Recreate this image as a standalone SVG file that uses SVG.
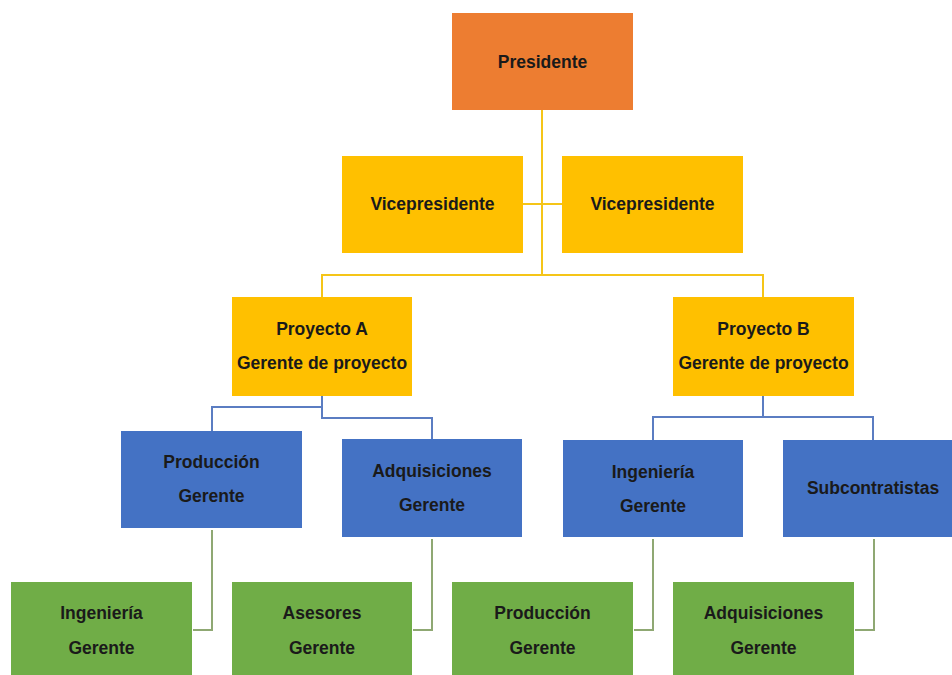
<svg xmlns="http://www.w3.org/2000/svg" width="952" height="675" viewBox="0 0 952 675">
  <style>
    .box text { font-family: "Liberation Sans", Arial, sans-serif; font-weight: bold; font-size: 17.5px; fill: #1a1a1a; text-anchor: middle; }
    .orange { fill: #ED7D31; }
    .gold { fill: #FFC000; }
    .blue { fill: #4472C4; }
    .green { fill: #70AD47; }
    .conn { fill: none; stroke-width: 2; }
    .c-gold { stroke: #F5C518; }
    .c-blue { stroke: #5B7DC2; }
    .c-green { stroke: #8FA873; }
  </style>
  <rect width="952" height="675" fill="#ffffff"/>

  <!-- connectors -->
  <g id="connectors">
    <!-- president to vice-presidents and projects -->
    <path class="conn c-gold" d="M542 110 V275"/>
    <path class="conn c-gold" d="M523 204 H562"/>
    <path class="conn c-gold" d="M322 297 V275 H763 V297"/>
    <!-- project A to its managers -->
    <path class="conn c-blue" d="M322 396 V418 H432 V439"/>
    <path class="conn c-blue" d="M322 407 H212 V431"/>
    <!-- project B to its managers -->
    <path class="conn c-blue" d="M763 396 V417 H653 V440"/>
    <path class="conn c-blue" d="M763 417 H873 V440"/>
    <!-- managers to lower boxes -->
    <path class="conn c-green" d="M212 530 V630 H193"/>
    <path class="conn c-green" d="M432 539 V630 H413"/>
    <path class="conn c-green" d="M653 539 V630 H634"/>
    <path class="conn c-green" d="M874 539 V630 H855"/>
  </g>

  <g id="presidente" class="box">
    <rect class="orange" x="452" y="13" width="181" height="97"/>
    <text x="542.5" y="68">Presidente</text>
  </g>
  <g id="vicepresidente-1" class="box">
    <rect class="gold" x="342" y="156" width="181" height="97"/>
    <text x="432.5" y="210">Vicepresidente</text>
  </g>
  <g id="vicepresidente-2" class="box">
    <rect class="gold" x="562" y="156" width="181" height="97"/>
    <text x="652.5" y="210">Vicepresidente</text>
  </g>
  <g id="proyecto-a" class="box">
    <rect class="gold" x="232" y="297" width="180" height="99"/>
    <text x="322" y="335">Proyecto A</text>
    <text x="322" y="369">Gerente de proyecto</text>
  </g>
  <g id="proyecto-b" class="box">
    <rect class="gold" x="673" y="297" width="181" height="99"/>
    <text x="763.5" y="335">Proyecto B</text>
    <text x="763.5" y="369">Gerente de proyecto</text>
  </g>
  <g id="produccion-a" class="box">
    <rect class="blue" x="121" y="431" width="181" height="97"/>
    <text x="211.5" y="468">Producción</text>
    <text x="211.5" y="502">Gerente</text>
  </g>
  <g id="adquisiciones-a" class="box">
    <rect class="blue" x="342" y="439" width="180" height="98"/>
    <text x="432" y="477">Adquisiciones</text>
    <text x="432" y="511">Gerente</text>
  </g>
  <g id="ingenieria-b" class="box">
    <rect class="blue" x="563" y="440" width="180" height="97"/>
    <text x="653" y="478">Ingeniería</text>
    <text x="653" y="512">Gerente</text>
  </g>
  <g id="subcontratistas" class="box">
    <rect class="blue" x="783" y="440" width="169" height="97"/>
    <text x="873" y="494">Subcontratistas</text>
  </g>
  <g id="ingenieria" class="box">
    <rect class="green" x="11" y="582" width="181" height="93"/>
    <text x="101.5" y="619">Ingeniería</text>
    <text x="101.5" y="654">Gerente</text>
  </g>
  <g id="asesores" class="box">
    <rect class="green" x="232" y="582" width="180" height="93"/>
    <text x="322" y="619">Asesores</text>
    <text x="322" y="654">Gerente</text>
  </g>
  <g id="produccion" class="box">
    <rect class="green" x="452" y="582" width="181" height="93"/>
    <text x="542.5" y="619">Producción</text>
    <text x="542.5" y="654">Gerente</text>
  </g>
  <g id="adquisiciones" class="box">
    <rect class="green" x="673" y="582" width="181" height="93"/>
    <text x="763.5" y="619">Adquisiciones</text>
    <text x="763.5" y="654">Gerente</text>
  </g>
</svg>
